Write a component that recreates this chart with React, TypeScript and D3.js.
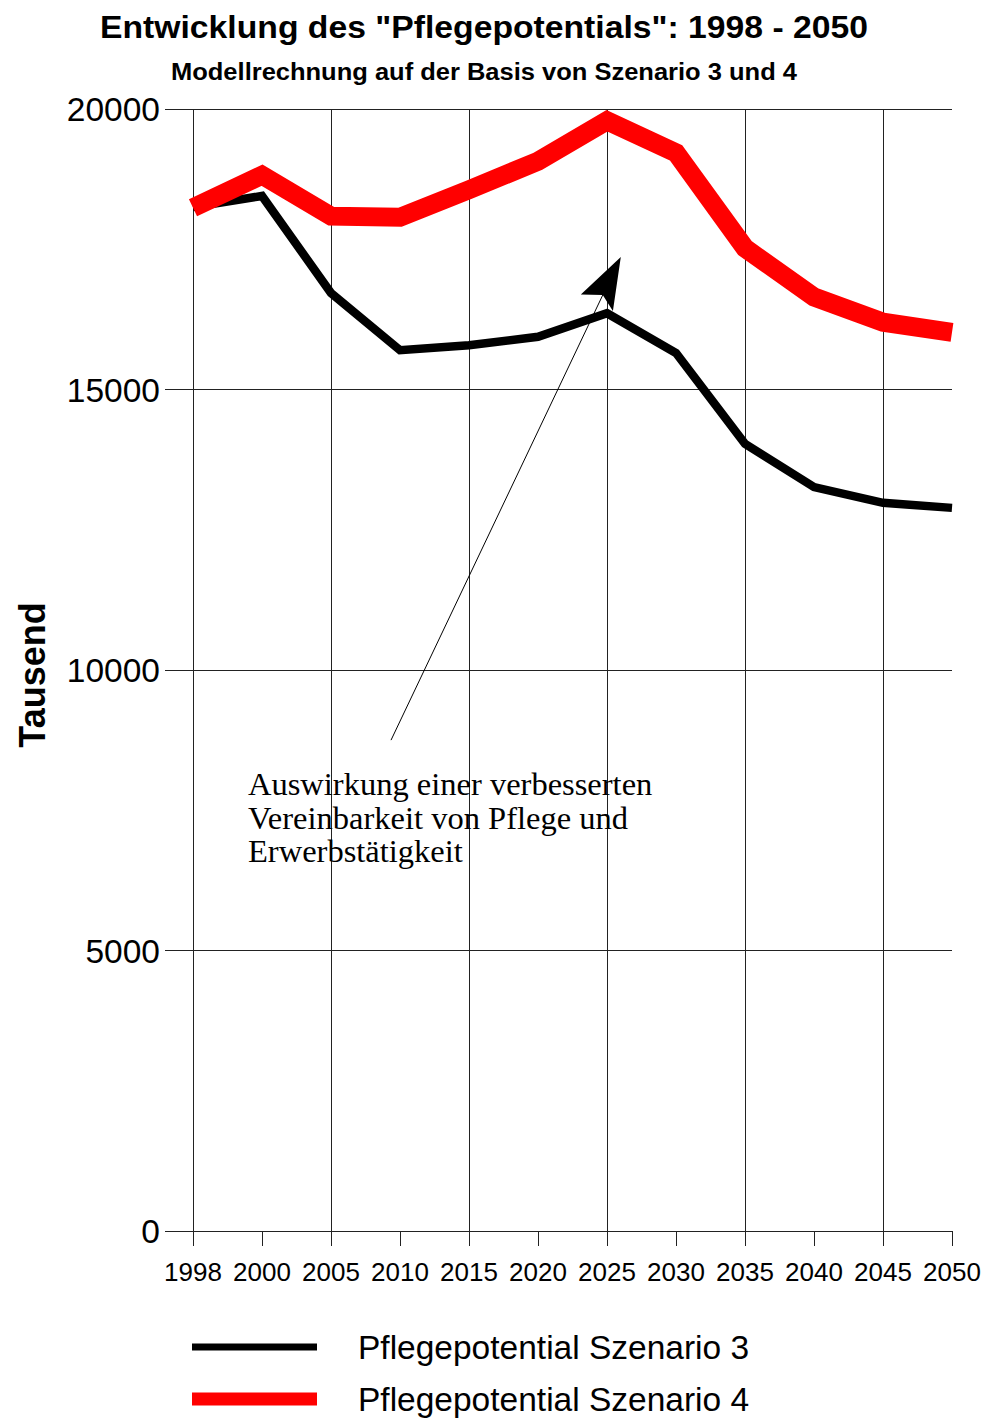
import React, { useRef, useEffect } from "react";
import * as d3 from "d3";

const years = ["1998", "2000", "2005", "2010", "2015", "2020", "2025", "2030", "2035", "2040", "2045", "2050"];
const szenario3 = [18250, 18450, 16720, 15700, 15790, 15940, 16360, 15650, 14030, 13260, 12980, 12890];
const szenario4 = [18240, 18820, 18090, 18070, 18560, 19070, 19790, 19220, 17520, 16650, 16200, 16020];
const yTicks = [0, 5000, 10000, 15000, 20000];
const gridYears = ["1998", "2005", "2015", "2025", "2035", "2045"];
const noteLines = ["Auswirkung einer verbesserten", "Vereinbarkeit von Pflege und", "Erwerbstätigkeit"];

const App = () => {
  const svgRef = useRef<SVGSVGElement>(null);

  useEffect(() => {
    const width = 985;
    const height = 1421;
    const svg = d3.select(svgRef.current);
    svg.selectAll("*").remove();
    svg.attr("width", width).attr("height", height).style("font-family", "Liberation Sans, Arial, sans-serif");

    const x = d3.scalePoint().domain(years).range([193, 952]);
    const xi = d3.scaleLinear().domain([0, years.length - 1]).range([193, 952]);
    const y = d3.scaleLinear().domain([0, 20000]).range([1231, 109]);

    // titles
    svg.append("text").attr("x", 484).attr("y", 38).attr("text-anchor", "middle")
      .attr("font-size", 32).attr("font-weight", "bold")
      .attr("textLength", 768).attr("lengthAdjust", "spacingAndGlyphs")
      .text('Entwicklung des "Pflegepotentials": 1998 - 2050');
    svg.append("text").attr("x", 484).attr("y", 80).attr("text-anchor", "middle")
      .attr("font-size", 23).attr("font-weight", "bold")
      .attr("textLength", 626).attr("lengthAdjust", "spacingAndGlyphs")
      .text("Modellrechnung auf der Basis von Szenario 3 und 4");

    // horizontal grid + y labels
    const gy = svg.append("g");
    gy.selectAll("line").data(yTicks).join("line")
      .attr("x1", 165).attr("x2", 952)
      .attr("y1", (d) => y(d)).attr("y2", (d) => y(d))
      .attr("stroke", "#222").attr("stroke-width", 1).attr("shape-rendering", "crispEdges");
    gy.selectAll("text").data(yTicks).join("text")
      .attr("x", 160).attr("y", (d) => y(d)).attr("dy", "0.36em")
      .attr("text-anchor", "end").attr("font-size", 33.5)
      .text((d) => String(d));

    // vertical grid
    svg.append("g").selectAll("line").data(gridYears).join("line")
      .attr("x1", (d) => x(d)!).attr("x2", (d) => x(d)!)
      .attr("y1", y(20000)).attr("y2", y(0))
      .attr("stroke", "#222").attr("stroke-width", 1).attr("shape-rendering", "crispEdges");

    // x axis ticks + labels
    const gx = svg.append("g");
    gx.selectAll("line").data(years).join("line")
      .attr("x1", (d) => x(d)!).attr("x2", (d) => x(d)!)
      .attr("y1", y(0)).attr("y2", y(0) + 15)
      .attr("stroke", "#222").attr("stroke-width", 1).attr("shape-rendering", "crispEdges");
    gx.selectAll("text").data(years).join("text")
      .attr("x", (d) => x(d)!).attr("y", 1281)
      .attr("text-anchor", "middle").attr("font-size", 26)
      .text((d) => d);

    // y axis title
    svg.append("text")
      .attr("transform", `translate(45, ${675}) rotate(-90)`)
      .attr("text-anchor", "middle").attr("font-size", 36).attr("font-weight", "bold")
      .text("Tausend");

    // lines
    const line = d3.line<number>().x((d, i) => x(years[i])!).y((d) => y(d));
    svg.append("path").datum(szenario3).attr("d", line)
      .attr("fill", "none").attr("stroke", "#000").attr("stroke-width", 8.5)
      .attr("stroke-linejoin", "miter");
    svg.append("path").datum(szenario4).attr("d", line)
      .attr("fill", "none").attr("stroke", "#ff0000").attr("stroke-width", 19)
      .attr("stroke-linejoin", "miter");

    // annotation arrow
    const start: [number, number] = [xi(2.87), y(8750)];
    const tip: [number, number] = [xi(6.2), y(17360)];
    const ang = Math.atan2(tip[1] - start[1], tip[0] - start[0]);
    const rot = (len: number, off: number): [number, number] => [
      tip[0] - len * Math.cos(ang) + off * Math.sin(ang),
      tip[1] - len * Math.sin(ang) - off * Math.cos(ang),
    ];
    const neck = rot(42, 0);
    svg.append("line")
      .attr("x1", start[0]).attr("y1", start[1]).attr("x2", neck[0]).attr("y2", neck[1])
      .attr("stroke", "#000").attr("stroke-width", 1);
    const head = [tip, rot(51, 20), rot(42, 0), rot(52, -16)];
    svg.append("path")
      .attr("d", "M" + head.map((p) => p.join(",")).join("L") + "Z")
      .attr("fill", "#000");

    // annotation text
    svg.append("g").selectAll("text").data(noteLines).join("text")
      .attr("x", 248).attr("y", (d, i) => 795 + i * 33.5)
      .attr("font-family", "Liberation Serif, Times New Roman, serif")
      .attr("font-size", 32.5)
      .text((d) => d);

    // legend
    const legendItems = [
      { label: "Pflegepotential Szenario 3", color: "#000", w: 7 },
      { label: "Pflegepotential Szenario 4", color: "#ff0000", w: 13 },
    ];
    const legend = svg.append("g");
    legendItems.forEach((d, i) => {
      const cy = 1347 + i * 52;
      legend.append("line").attr("x1", 192).attr("x2", 317).attr("y1", cy).attr("y2", cy)
        .attr("stroke", d.color).attr("stroke-width", d.w);
      legend.append("text").attr("x", 358).attr("y", cy).attr("dy", "0.36em")
        .attr("font-size", 33.5).text(d.label);
    });
  }, []);

  return <svg ref={svgRef} style={{ position: "absolute", left: 0, top: 0 }}></svg>;
};

export default App;
